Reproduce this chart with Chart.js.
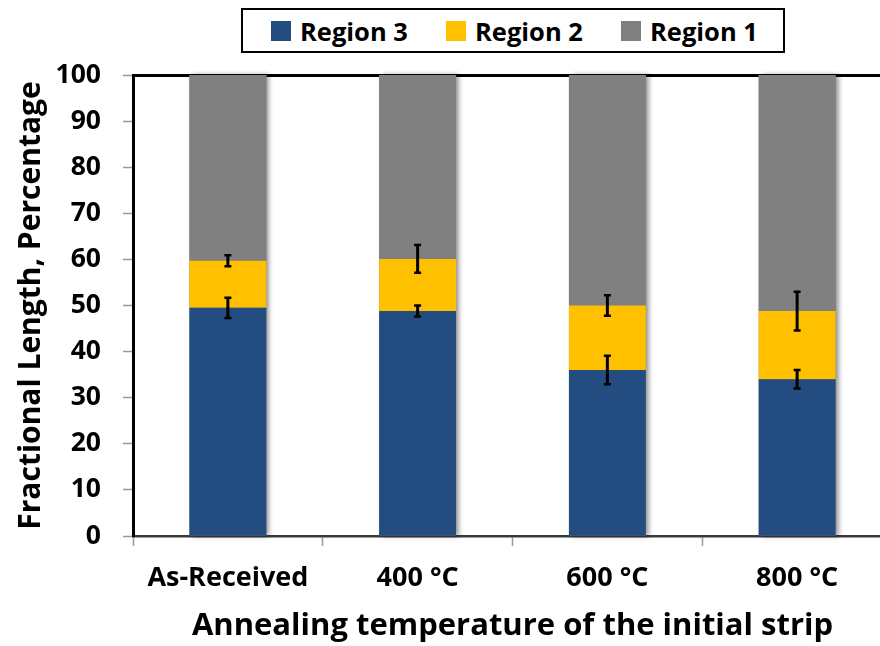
<!DOCTYPE html>
<html>
<head>
<meta charset="utf-8">
<script src="https://cdn.jsdelivr.net/npm/chart.js@4/dist/chart.umd.min.js"></script>
<style>
  html, body { margin: 0; padding: 0; background: #fff; overflow: hidden; }
  #wrap { position: relative; width: 880px; height: 646px; overflow: hidden; }
  #chart { position: absolute; left: 0; top: 0; }
  #legend {
    position: absolute; left: 241px; top: 8px; width: 540px; height: 41px;
    border: 2px solid #000; background: #fff;
    font-family: "Open Sans", "DejaVu Sans", sans-serif; font-weight: bold; font-size: 25.5px; color: #000;
  }
  .item { position: absolute; top: 0; height: 41px; display: flex; align-items: center; }
  .sw { width: 20px; height: 20px; margin-right: 9px; }
</style>
</head>
<body>
<div id="wrap">
  <canvas id="chart" width="900" height="646"></canvas>
  <div id="legend"></div>
</div>
<script>
// Annealing conditions of the initial strip
const categories = ['As-Received', '400 °C', '600 °C', '800 °C'];

// Fractional length of each region, percent
const region3 = [49.5, 48.8, 36.0, 34.0];
const region2 = [10.2, 11.3, 14.0, 14.8];
const region1 = [40.3, 39.9, 50.0, 51.2];

// Error bar half-widths at the top of Region 3 and Region 2
const region3Err = [2.2, 1.2, 3.1, 2.0];
const region2Err = [1.2, 3.0, 2.2, 4.2];

const yTicks = [0, 10, 20, 30, 40, 50, 60, 70, 80, 90, 100];

const colors = { r3: '#234C80', r2: '#FFC000', r1: '#808080' };
const FONT = '"Open Sans", "DejaVu Sans", sans-serif';

// Legend box above the plot
const legendItems = [
  { label: 'Region 3', color: colors.r3, left: 28 },
  { label: 'Region 2', color: colors.r2, left: 203 },
  { label: 'Region 1', color: colors.r1, left: 378 }
];
const legendEl = document.getElementById('legend');
legendItems.forEach(it => {
  const d = document.createElement('div');
  d.className = 'item';
  d.style.left = it.left + 'px';
  const s = document.createElement('span');
  s.className = 'sw';
  s.style.background = it.color;
  const t = document.createElement('span');
  t.textContent = it.label;
  d.appendChild(s); d.appendChild(t);
  legendEl.appendChild(d);
});

// Soft shadow along the right side of each stacked column
const columnShadow = {
  id: 'columnShadow',
  beforeDatasetsDraw(chart) {
    const ctx = chart.ctx;
    const base = chart.getDatasetMeta(0).data;
    const top = chart.getDatasetMeta(chart.data.datasets.length - 1).data;
    ctx.save();
    ctx.shadowColor = 'rgba(0,0,0,0.45)';
    ctx.shadowBlur = 5;
    ctx.shadowOffsetX = 3;
    ctx.shadowOffsetY = 0;
    ctx.fillStyle = '#808080';
    base.forEach((el, i) => {
      const w = el.width;
      const yTop = top[i].y;
      ctx.fillRect(el.x - w / 2, yTop, w, el.base - yTop);
    });
    ctx.restore();
  }
};

// Error bars at the cumulative tops of the lower two segments
const errorBars = {
  id: 'errorBars',
  afterDatasetsDraw(chart) {
    const ctx = chart.ctx;
    const y = chart.scales.y;
    const sets = [
      { idx: 0, err: region3Err },
      { idx: 1, err: region2Err }
    ];
    ctx.save();
    ctx.strokeStyle = '#000';
    ctx.lineCap = 'butt';
    sets.forEach(s => {
      const meta = chart.getDatasetMeta(s.idx);
      meta.data.forEach((el, i) => {
        let cum = 0;
        for (let k = 0; k <= s.idx; k++) cum += chart.data.datasets[k].data[i];
        const yHi = y.getPixelForValue(cum + s.err[i]);
        const yLo = y.getPixelForValue(cum - s.err[i]);
        const x = el.x;
        ctx.lineWidth = 3;
        ctx.beginPath();
        ctx.moveTo(x, yHi); ctx.lineTo(x, yLo);
        ctx.stroke();
        ctx.lineWidth = 2.5;
        ctx.beginPath();
        ctx.moveTo(x - 3.5, yHi); ctx.lineTo(x + 3.5, yHi);
        ctx.moveTo(x - 3.5, yLo); ctx.lineTo(x + 3.5, yLo);
        ctx.stroke();
      });
    });
    ctx.restore();
  }
};

new Chart(document.getElementById('chart'), {
  type: 'bar',
  data: {
    labels: categories,
    datasets: [
      { label: 'Region 3', data: region3, backgroundColor: colors.r3 },
      { label: 'Region 2', data: region2, backgroundColor: colors.r2 },
      { label: 'Region 1', data: region1, backgroundColor: colors.r1 }
    ]
  },
  options: {
    responsive: false,
    animation: false,
    layout: { padding: { left: 0, right: 8, top: 75, bottom: 0 } },
    datasets: { bar: { categoryPercentage: 1, barPercentage: 0.405 } },
    plugins: { legend: { display: false }, tooltip: { enabled: false } },
    scales: {
      x: {
        stacked: true,
        offset: true,
        grid: {
          offset: true, drawOnChartArea: false, drawTicks: true,
          tickLength: 10, tickColor: '#9a9a9a', tickWidth: 1.5
        },
        border: { display: true, color: '#3a3a3a', width: 2.5 },
        ticks: { color: '#000', font: { family: FONT, weight: 'bold', size: 27 }, padding: 16 },
        title: {
          display: true, text: 'Annealing temperature of the initial strip',
          color: '#000', font: { family: FONT, weight: 'bold', size: 31 },
          padding: { top: 0, bottom: 1 }
        },
        afterFit(scale) { scale.height = 110; }
      },
      y: {
        stacked: true,
        min: 0, max: 100,
        afterBuildTicks(scale) { scale.ticks = yTicks.map(v => ({ value: v })); },
        grid: {
          drawOnChartArea: true, drawTicks: true, tickLength: 10,
          color: ctx => (ctx.tick && ctx.tick.value === 100) ? '#000' : 'rgba(0,0,0,0)',
          lineWidth: ctx => (ctx.tick && ctx.tick.value === 100) ? 3 : 1,
          tickColor: '#9a9a9a', tickWidth: 1.5
        },
        border: { display: true, color: '#000', width: 3 },
        ticks: { color: '#000', font: { family: FONT, weight: 'bold', size: 26.5 }, padding: 22 },
        title: {
          display: true, text: 'Fractional Length, Percentage',
          color: '#000', font: { family: FONT, weight: 'bold', size: 30 },
          padding: { top: 13, bottom: 0 }
        },
        afterFit(scale) { scale.width = 133; }
      }
    }
  },
  plugins: [columnShadow, errorBars]
});
</script>
</body>
</html>
